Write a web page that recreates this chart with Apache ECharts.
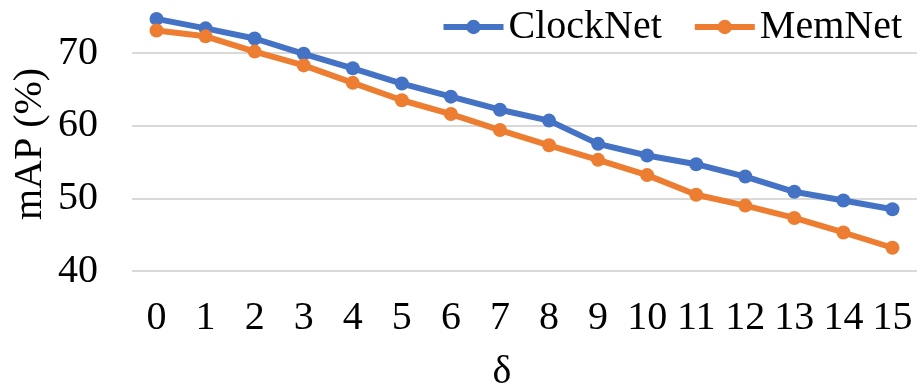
<!DOCTYPE html>
<html>
<head>
<meta charset="utf-8">
<script src="https://cdn.jsdelivr.net/npm/echarts@6/dist/echarts.min.js"></script>
<style>
  html, body { margin: 0; padding: 0; background: #fff; }
  #chart { width: 917px; height: 392px; }
</style>
</head>
<body>
<div id="chart"></div>
<script>
const deltas = ['0', '1', '2', '3', '4', '5', '6', '7', '8', '9', '10', '11', '12', '13', '14', '15'];
const clockNet = [74.7, 73.4, 72.0, 69.9, 67.9, 65.8, 64.0, 62.2, 60.7, 57.5, 55.9, 54.7, 53.0, 50.9, 49.7, 48.5];
const memNet = [73.1, 72.3, 70.2, 68.3, 65.9, 63.5, 61.6, 59.4, 57.3, 55.3, 53.2, 50.5, 49.0, 47.3, 45.3, 43.2];

const serif = '"Liberation Serif", "Times New Roman", serif';
const fontSize = 40;
const chart = echarts.init(document.getElementById('chart'), null, { renderer: 'canvas' });

// the source plot is clipped at the top, so the axis runs a bit past 75
chart.setOption({
  animation: false,
  textStyle: { fontFamily: serif },
  grid: { left: 132, right: -8, top: 0, bottom: 121, containLabel: false },
  legend: {
    right: 10,
    top: 2,
    itemWidth: 60,
    itemHeight: 18,
    itemGap: 30,
    lineStyle: { width: 6 },
    textStyle: { fontFamily: serif, fontSize: fontSize, color: '#000' },
    data: ['ClockNet', 'MemNet']
  },
  xAxis: {
    type: 'category',
    data: deltas,
    boundaryGap: true,
    axisLine: { show: false },
    axisTick: { show: false },
    axisLabel: { fontFamily: serif, fontSize: fontSize, color: '#000', margin: 27, interval: 0 }
  },
  yAxis: {
    type: 'value',
    min: 40,
    max: 77.3,
    interval: 10,
    axisLine: { show: false },
    axisTick: { show: false },
    axisLabel: { fontFamily: serif, fontSize: fontSize, color: '#000', margin: 34, showMaxLabel: false },
    splitLine: { showMaxLine: false, lineStyle: { color: '#d9d9d9', width: 2 } }
  },
  graphic: [
    {
      type: 'text',
      x: 30,
      y: 144,
      rotation: Math.PI / 2,
      style: { text: 'mAP (%)', font: fontSize + 'px ' + serif, fill: '#000', align: 'center', verticalAlign: 'middle' }
    },
    {
      type: 'text',
      x: 502,
      y: 372,
      style: { text: 'δ', font: fontSize + 'px ' + serif, fill: '#000', align: 'center', verticalAlign: 'middle' }
    }
  ],
  series: [
    {
      name: 'ClockNet',
      type: 'line',
      data: clockNet,
      symbol: 'circle',
      symbolSize: 14,
      color: '#4472C4',
      lineStyle: { width: 6 }
    },
    {
      name: 'MemNet',
      type: 'line',
      data: memNet,
      symbol: 'circle',
      symbolSize: 14,
      color: '#ED7D31',
      lineStyle: { width: 6 }
    }
  ]
});
</script>
</body>
</html>
